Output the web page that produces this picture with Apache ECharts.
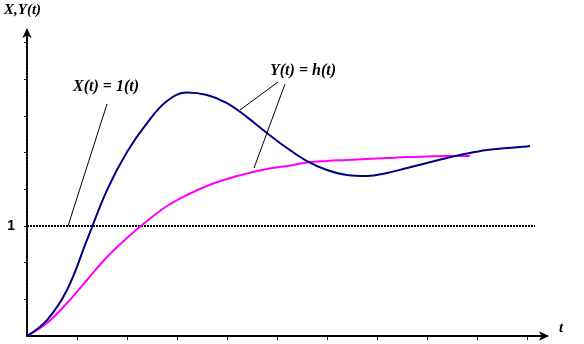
<!DOCTYPE html>
<html>
<head>
<meta charset="utf-8">
<script src="https://cdn.jsdelivr.net/npm/echarts@6/dist/echarts.min.js"></script>
<style>html,body{margin:0;padding:0;background:#fff}#c{width:584px;height:344px}</style>
</head>
<body>
<div id="c"></div>
<script>
// Response Y(t) = h(t) (blue, with overshoot)
var blueT = [0,0.4,0.8,1.2,1.6,2.0,2.4,2.8,3.2,3.6,4.0,4.4,4.8,5.2,5.6,6.0,6.4,6.8,7.2,7.6,8.0,8.4,8.8,9.2,9.6,10.0,10.06];
var blueY = [0,0.145,0.418,0.873,1.327,1.673,1.936,2.136,2.214,2.191,2.118,1.99,1.845,1.709,1.59,1.509,1.464,1.455,1.482,1.527,1.573,1.618,1.659,1.691,1.709,1.723,1.727];
// Second response (magenta, monotone)
var magT = [0,0.4,0.8,1.2,1.6,2.0,2.4,2.8,3.2,3.6,4.0,4.4,4.8,5.2,5.6,6.0,6.4,6.8,7.2,7.6,8.0,8.4,8.86];
var magY = [0,0.118,0.3,0.509,0.718,0.891,1.045,1.182,1.282,1.364,1.427,1.477,1.518,1.545,1.577,1.591,1.6,1.609,1.618,1.627,1.632,1.636,1.636];
// Step input X(t) = 1(t)
var stepT = [0, 10.16];
var stepY = [1, 1];
// Tick positions
var xTicks = [1,2,3,4,5,6,7,8,9,10];
var yTicks = [1/3,2/3,1,4/3,5/3,2,7/3,8/3];
var yLabels = [1];
// Annotation leader lines (data coords)
var leaderX = [[1.6,2.109],[0.82,1.0]];
var leaderY1 = [[5.02,2.309],[4.26,2.055]];
var leaderY2 = [[5.16,2.291],[4.54,1.527]];

function zip(a,b){return a.map(function(v,i){return [v,b[i]];});}

var chart = echarts.init(document.getElementById('c'));
var serif = "'Liberation Serif', 'Times New Roman', serif";
chart.setOption({
  animation:false,
  grid:{left:27, right:37, top:30, bottom:8, containLabel:false},
  xAxis:{type:'value', min:0, max:10.4,
    axisLine:{show:true, lineStyle:{color:'#000', width:2}, symbol:['none','arrow'], symbolSize:[7,10], symbolOffset:[0,2]},
    axisTick:{show:true, length:4, customValues:xTicks, lineStyle:{color:'#000', width:1}},
    axisLabel:{show:false}, splitLine:{show:false}},
  yAxis:{type:'value', min:0, max:2.782,
    axisLine:{show:true, onZero:false, lineStyle:{color:'#000', width:2, type:[2,1]}, symbol:['none','arrow'], symbolSize:[7,10], symbolOffset:[0,2]},
    axisTick:{show:true, length:3, customValues:yTicks, lineStyle:{color:'#000', width:1}},
    axisLabel:{show:true, customValues:yLabels, margin:12, formatter:function(v){return '1';},
      fontFamily:"'Liberation Sans', Arial, sans-serif", fontWeight:'bold', fontSize:14, color:'#000'},
    splitLine:{show:false}},
  graphic:[
    {type:'text', left:4, top:3, style:{text:'X,Y(t)', font:"italic bold 15px "+serif, fill:'#000'}},
    {type:'text', left:559, top:321, style:{text:'t', font:"italic bold 15px "+serif, fill:'#000'}},
    {type:'text', left:73, top:79, style:{text:'X(t) = 1(t)', font:"italic bold 16px "+serif, fill:'#000'}},
    {type:'text', left:270, top:63, style:{text:'Y(t) = h(t)', font:"italic bold 16px "+serif, fill:'#000'}}
  ],
  series:[
    {type:'line', data:zip(stepT,stepY), symbol:'none', silent:true,
      lineStyle:{color:'#000', width:2, type:[2,1]}, z:1},
    {type:'line', data:zip(magT,magY), symbol:'none', smooth:0.4,
      lineStyle:{color:'#FF00FF', width:2}, z:2},
    {type:'line', data:zip(blueT,blueY), symbol:'none', smooth:0.4,
      lineStyle:{color:'#000080', width:2}, z:3},
    {type:'line', data:leaderX, symbol:'none', silent:true, lineStyle:{color:'#000', width:1}, z:4},
    {type:'line', data:leaderY1, symbol:'none', silent:true, lineStyle:{color:'#000', width:1}, z:4},
    {type:'line', data:leaderY2, symbol:'none', silent:true, lineStyle:{color:'#000', width:1}, z:4}
  ]
});
</script>
</body>
</html>
